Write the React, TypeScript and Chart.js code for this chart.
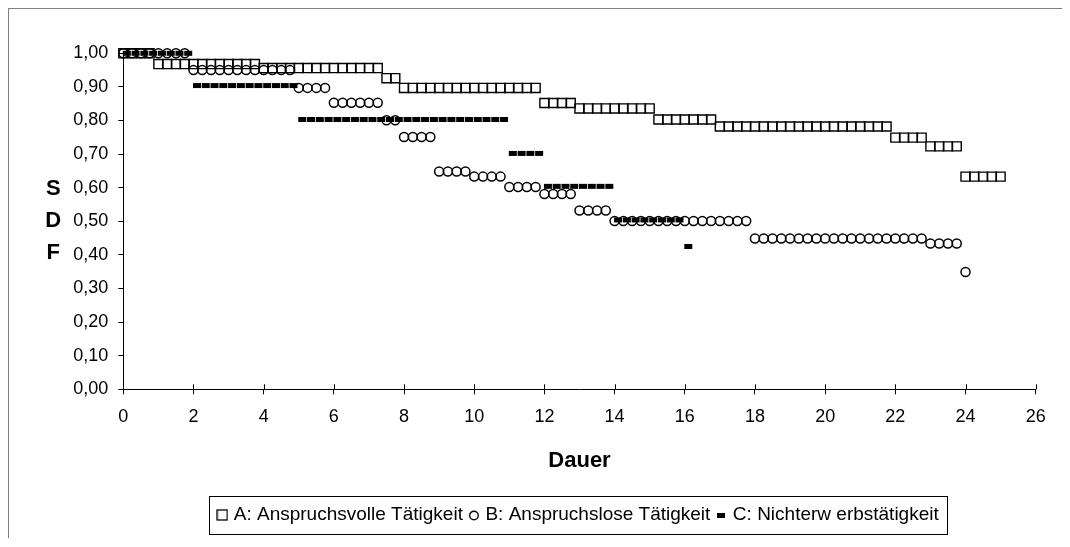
import React, { useEffect, useRef } from 'react';
import { Chart, registerables } from 'chart.js';

Chart.register(...registerables);

const FONT = "'Liberation Sans', Arial, Helvetica, sans-serif";

const seriesNames = ['A: Anspruchsvolle Tätigkeit', 'B: Anspruchslose Tätigkeit', 'C: Nichterw erbstätigkeit'];
const xTitle = 'Dauer';
const yTitleLetters = ['S', 'D', 'F'];
const xTickLabels = ['0', '2', '4', '6', '8', '10', '12', '14', '16', '18', '20', '22', '24', '26'];
const yTickLabels = ['0,00', '0,10', '0,20', '0,30', '0,40', '0,50', '0,60', '0,70', '0,80', '0,90', '1,00'];

// Series A: Anspruchsvolle Tätigkeit
const durA = [
  0, 0.25, 0.5, 0.75,
  1, 1.25, 1.5, 1.75, 2, 2.25, 2.5, 2.75, 3, 3.25, 3.5, 3.75,
  4, 4.25, 4.5, 4.75, 5, 5.25, 5.5, 5.75, 6, 6.25, 6.5, 6.75, 7, 7.25,
  7.5, 7.75,
  8, 8.25, 8.5, 8.75, 9, 9.25, 9.5, 9.75, 10, 10.25, 10.5, 10.75, 11, 11.25, 11.5, 11.75,
  12, 12.25, 12.5, 12.75,
  13, 13.25, 13.5, 13.75, 14, 14.25, 14.5, 14.75, 15,
  15.25, 15.5, 15.75, 16, 16.25, 16.5, 16.75,
  17, 17.25, 17.5, 17.75, 18, 18.25, 18.5, 18.75, 19, 19.25, 19.5, 19.75, 20, 20.25, 20.5, 20.75, 21, 21.25, 21.5, 21.75,
  22, 22.25, 22.5, 22.75,
  23, 23.25, 23.5, 23.75,
  24, 24.25, 24.5, 24.75, 25,
];
const sdfA = [
  1, 1, 1, 1,
  0.968, 0.968, 0.968, 0.968, 0.968, 0.968, 0.968, 0.968, 0.968, 0.968, 0.968, 0.968,
  0.956, 0.956, 0.956, 0.956, 0.956, 0.956, 0.956, 0.956, 0.956, 0.956, 0.956, 0.956, 0.956, 0.956,
  0.926, 0.926,
  0.897, 0.897, 0.897, 0.897, 0.897, 0.897, 0.897, 0.897, 0.897, 0.897, 0.897, 0.897, 0.897, 0.897, 0.897, 0.897,
  0.852, 0.852, 0.852, 0.852,
  0.836, 0.836, 0.836, 0.836, 0.836, 0.836, 0.836, 0.836, 0.836,
  0.803, 0.803, 0.803, 0.803, 0.803, 0.803, 0.803,
  0.782, 0.782, 0.782, 0.782, 0.782, 0.782, 0.782, 0.782, 0.782, 0.782, 0.782, 0.782, 0.782, 0.782, 0.782, 0.782, 0.782, 0.782, 0.782, 0.782,
  0.749, 0.749, 0.749, 0.749,
  0.723, 0.723, 0.723, 0.723,
  0.633, 0.633, 0.633, 0.633, 0.633,
];

// Series B: Anspruchslose Tätigkeit
const durB = [
  0, 0.25, 0.5, 0.75, 1, 1.25, 1.5, 1.75,
  2, 2.25, 2.5, 2.75, 3, 3.25, 3.5, 3.75, 4, 4.25, 4.5, 4.75,
  5, 5.25, 5.5, 5.75,
  6, 6.25, 6.5, 6.75, 7, 7.25,
  7.5, 7.75,
  8, 8.25, 8.5, 8.75,
  9, 9.25, 9.5, 9.75,
  10, 10.25, 10.5, 10.75,
  11, 11.25, 11.5, 11.75,
  12, 12.25, 12.5, 12.75,
  13, 13.25, 13.5, 13.75,
  14, 14.25, 14.5, 14.75, 15, 15.25, 15.5, 15.75, 16, 16.25, 16.5, 16.75, 17, 17.25, 17.5, 17.75,
  18, 18.25, 18.5, 18.75, 19, 19.25, 19.5, 19.75, 20, 20.25, 20.5, 20.75, 21, 21.25, 21.5, 21.75, 22, 22.25, 22.5, 22.75,
  23, 23.25, 23.5, 23.75,
  24,
];
const sdfB = [
  1, 1, 1, 1, 1, 1, 1, 1,
  0.95, 0.95, 0.95, 0.95, 0.95, 0.95, 0.95, 0.95, 0.95, 0.95, 0.95, 0.95,
  0.897, 0.897, 0.897, 0.897,
  0.853, 0.853, 0.853, 0.853, 0.853, 0.853,
  0.801, 0.801,
  0.751, 0.751, 0.751, 0.751,
  0.648, 0.648, 0.648, 0.648,
  0.633, 0.633, 0.633, 0.633,
  0.602, 0.602, 0.602, 0.602,
  0.581, 0.581, 0.581, 0.581,
  0.532, 0.532, 0.532, 0.532,
  0.501, 0.501, 0.501, 0.501, 0.501, 0.501, 0.501, 0.501, 0.501, 0.501, 0.501, 0.501, 0.501, 0.501, 0.501, 0.501,
  0.449, 0.449, 0.449, 0.449, 0.449, 0.449, 0.449, 0.449, 0.449, 0.449, 0.449, 0.449, 0.449, 0.449, 0.449, 0.449, 0.449, 0.449, 0.449, 0.449,
  0.434, 0.434, 0.434, 0.434,
  0.349,
];

// Series C: Nichterwerbstätigkeit
const durC = [
  0.1, 0.35, 0.6, 0.85, 1.1, 1.35, 1.6, 1.85,
  2.1, 2.35, 2.6, 2.85, 3.1, 3.35, 3.6, 3.85, 4.1, 4.35, 4.6, 4.85,
  5.1, 5.35, 5.6, 5.85, 6.1, 6.35, 6.6, 6.85, 7.1, 7.35, 7.6, 7.85, 8.1, 8.35, 8.6, 8.85, 9.1, 9.35, 9.6, 9.85, 10.1, 10.35, 10.6, 10.85,
  11.1, 11.35, 11.6, 11.85,
  12.1, 12.35, 12.6, 12.85, 13.1, 13.35, 13.6, 13.85,
  14.1, 14.35, 14.6, 14.85, 15.1, 15.35, 15.6, 15.85,
  16.1,
];
const sdfC = [
  1, 1, 1, 1, 1, 1, 1, 1,
  0.904, 0.904, 0.904, 0.904, 0.904, 0.904, 0.904, 0.904, 0.904, 0.904, 0.904, 0.904,
  0.803, 0.803, 0.803, 0.803, 0.803, 0.803, 0.803, 0.803, 0.803, 0.803, 0.803, 0.803, 0.803, 0.803, 0.803, 0.803, 0.803, 0.803, 0.803, 0.803, 0.803, 0.803, 0.803, 0.803,
  0.702, 0.702, 0.702, 0.702,
  0.604, 0.604, 0.604, 0.604, 0.604, 0.604, 0.604, 0.604,
  0.504, 0.504, 0.504, 0.504, 0.504, 0.504, 0.504, 0.504,
  0.425,
];

const CANVAS_W = 1061;
const CANVAS_H = 529;

function makeLegendSymbols() {
  const sq = document.createElement('canvas');
  sq.width = 12; sq.height = 12;
  let c = sq.getContext('2d')!;
  c.strokeStyle = '#000'; c.lineWidth = 1.3;
  c.strokeRect(1, 1, 10, 10);

  const ci = document.createElement('canvas');
  ci.width = 12; ci.height = 12;
  c = ci.getContext('2d')!;
  c.strokeStyle = '#000'; c.lineWidth = 1.4;
  c.beginPath(); c.arc(6, 6.5, 4.3, 0, Math.PI * 2); c.stroke();

  const da = document.createElement('canvas');
  da.width = 8; da.height = 5;
  c = da.getContext('2d')!;
  c.fillStyle = '#000';
  c.fillRect(0, 0, 8, 5);
  return [sq, ci, da];
}

const decorPlugin = {
  id: 'decor',
  afterDraw(chart: any) {
    const { ctx, chartArea, scales } = chart;
    ctx.save();
    ctx.font = `bold 22px ${FONT}`;
    ctx.fillStyle = '#000';
    ctx.textAlign = 'center';
    ctx.textBaseline = 'middle';
    const cy = (chartArea.top + chartArea.bottom) / 2;
    yTitleLetters.forEach((l, i) => {
      ctx.fillText(l, chartArea.left - 70, cy + (i - 1) * 32);
    });
    ctx.strokeStyle = '#000';
    ctx.lineWidth = 1;
    scales.x.ticks.forEach((t: any) => {
      const px = Math.round(scales.x.getPixelForValue(t.value)) + 0.5;
      ctx.beginPath();
      ctx.moveTo(px, chartArea.bottom - 5);
      ctx.lineTo(px, chartArea.bottom);
      ctx.stroke();
    });
    const hb = chart.legend && chart.legend.legendHitBoxes;
    if (hb && hb.length) {
      const first = hb[0];
      const last = hb[hb.length - 1];
      const left = Math.round(first.left - 11) + 0.5;
      const right = Math.round(last.left + last.width + 8) + 0.5;
      const mid = first.top + 9.5;
      const top = Math.round(mid - 19) + 0.5;
      const bottom = Math.round(mid + 19) + 0.5;
      ctx.strokeStyle = '#000';
      ctx.lineWidth = 1;
      ctx.strokeRect(left, top, right - left, bottom - top);
    }
    ctx.restore();
  },
};

export default function App() {
  const ref = useRef<HTMLCanvasElement | null>(null);

  useEffect(() => {
    if (!ref.current) return;
    Chart.defaults.font.family = FONT;
    Chart.defaults.color = '#000';
    const symbols = makeLegendSymbols();

    const mk = (xs: number[], ys: number[]) => xs.map((x, i) => ({ x, y: ys[i] }));

    const chart = new Chart(ref.current, {
      type: 'scatter',
      data: {
        datasets: [
          {
            label: seriesNames[0],
            data: mk(durA, sdfA),
            pointStyle: 'rect',
            pointRadius: 6.4,
            pointBorderWidth: 1.4,
            borderColor: '#000',
            backgroundColor: 'rgba(0,0,0,0)',
            showLine: false,
            clip: false as any,
          },
          {
            label: seriesNames[1],
            data: mk(durB, sdfB),
            pointStyle: 'circle',
            pointRadius: 4.5,
            pointBorderWidth: 1.5,
            borderColor: '#000',
            backgroundColor: 'rgba(0,0,0,0)',
            showLine: false,
            clip: false as any,
          },
          {
            label: seriesNames[2],
            data: mk(durC, sdfC),
            pointStyle: 'line',
            pointRadius: 4.0,
            pointBorderWidth: 5,
            borderColor: '#000',
            backgroundColor: '#000',
            showLine: false,
            clip: false as any,
          },
        ],
      },
      options: {
        animation: false,
        responsive: false,
        events: [],
        layout: { padding: { left: 0, right: 34.3, top: 44.3, bottom: 3.5 } },
        plugins: {
          tooltip: { enabled: false },
          legend: {
            display: true,
            position: 'bottom',
            fullSize: false,
            labels: {
              usePointStyle: true,
              pointStyleWidth: 4,
              padding: 9,
              color: '#000',
              font: { size: 19, family: FONT },
              generateLabels: () =>
                seriesNames.map((name, i) => ({
                  text: name,
                  pointStyle: symbols[i] as any,
                  fillStyle: '#000',
                  strokeStyle: '#000',
                  lineWidth: 0,
                  hidden: false,
                  datasetIndex: i,
                  fontColor: '#000',
                })),
            },
          },
        },
        scales: {
          x: {
            type: 'linear',
            min: 0,
            max: 26,
            afterFit: (s: any) => { s.height = 107.2; },
            ticks: {
              stepSize: 2,
              padding: 12,
              color: '#000',
              font: { size: 18, family: FONT },
              maxRotation: 0,
              callback: (_v: any, i: number) => xTickLabels[i] ?? '',
            },
            grid: { display: true, drawOnChartArea: false, drawTicks: true, tickLength: 5, color: '#000', lineWidth: 1 },
            border: { display: true, color: '#000', width: 1 },
            title: {
              display: true,
              text: xTitle,
              color: '#000',
              font: { size: 22, weight: 'bold', family: FONT },
              padding: { top: 0, bottom: 22.3 },
            },
          },
          y: {
            type: 'linear',
            min: 0,
            max: 1,
            afterFit: (s: any) => { s.width = 114.3; },
            ticks: {
              stepSize: 0.1,
              padding: 10,
              color: '#000',
              font: { size: 18, family: FONT },
              callback: (_v: any, i: number) => yTickLabels[i] ?? '',
            },
            grid: { display: true, drawOnChartArea: false, drawTicks: true, tickLength: 5, color: '#000', lineWidth: 1 },
            border: { display: true, color: '#000', width: 1 },
          },
        },
      },
      plugins: [decorPlugin],
    } as any);

    return () => chart.destroy();
  }, []);

  return (
    <div
      style={{
        width: 1062,
        height: 530,
        boxSizing: 'border-box',
        borderTop: '1px solid #808080',
        borderLeft: '1px solid #808080',
        overflow: 'hidden',
        background: '#fff',
      }}
    >
      <canvas ref={ref} width={CANVAS_W} height={CANVAS_H} style={{ display: 'block', width: CANVAS_W, height: CANVAS_H }} />
    </div>
  );
}
